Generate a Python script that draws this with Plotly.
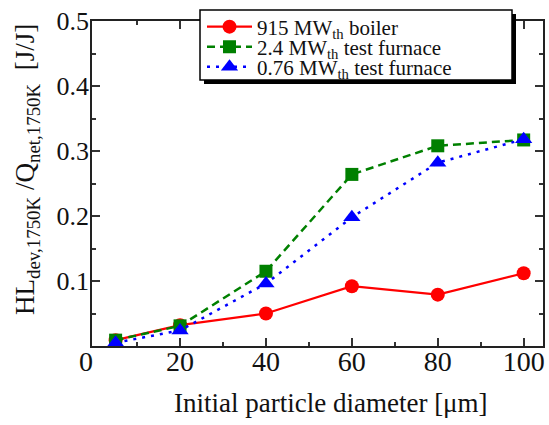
import plotly.graph_objects as go

diam = [5, 20, 40, 60, 80, 100]
boiler_915 = [0.009, 0.032, 0.050, 0.092, 0.079, 0.112]
furnace_24 = [0.009, 0.031, 0.115, 0.264, 0.308, 0.317]
furnace_076 = [0.005, 0.024, 0.096, 0.198, 0.282, 0.318]

names = ["915 MW<sub>th</sub> boiler", "2.4 MW<sub>th</sub> test furnace", "0.76 MW<sub>th</sub> test furnace"]
xticks = [20, 40, 60, 80, 100]
yticks = [0.1, 0.2, 0.3, 0.4, 0.5]

FONT = "Liberation Serif"
TXT = "#111"

# plot area in pixels (for converting layout positions)
L, R, T, B = 92, 6, 21, 79
W, H = 549, 425
PW, PH = W - L - R, H - T - B


def px_x(p):
    return (p - L) / PW


def px_y(p):
    return (H - B - p) / PH


fig = go.Figure()
fig.add_trace(go.Scatter(x=diam, y=boiler_915, name=names[0], mode="lines+markers",
                         line=dict(color="#ff0000", width=2.2),
                         marker=dict(symbol="circle", size=14, color="#ff0000"),
                         legend="legend"))
fig.add_trace(go.Scatter(x=diam, y=furnace_24, name=names[1], mode="lines+markers",
                         line=dict(color="#008000", width=2.5, dash="8px,5px"),
                         marker=dict(symbol="square", size=13, color="#008000"),
                         legend="legend2"))
fig.add_trace(go.Scatter(x=diam, y=furnace_076, name=names[2], mode="lines+markers",
                         line=dict(color="#0000ff", width=2.5, dash="3px,6px"),
                         marker=dict(symbol="triangle-up", size=15, color="#0000ff"),
                         legend="legend3"))

axis_common = dict(showline=True, linecolor="#222", linewidth=1.5, mirror="ticks",
                   ticks="inside", tickcolor="#333", tickwidth=1.5, ticklen=8,
                   showgrid=False, zeroline=False, automargin=False)

fig.update_xaxes(range=[-0.5, 104.5], tickvals=xticks, ticktext=[str(v) for v in xticks],
                 minor=dict(tickvals=[10, 30, 50, 70, 90], ticks="inside", ticklen=4,
                            tickcolor="#333", tickwidth=1.5),
                 tickfont=dict(family=FONT, size=28, color=TXT), ticklabelstandoff=-10,
                 **axis_common)
fig.update_yaxes(range=[0, 0.5], tickvals=yticks, ticktext=["0.1", "0.2", "0.3", "0.4", "0.5"],
                 minor=dict(tickvals=[0.05, 0.15, 0.25, 0.35, 0.45], ticks="inside", ticklen=4,
                            tickcolor="#333", tickwidth=1.5),
                 tickfont=dict(family=FONT, size=26, color=TXT), ticklabelstandoff=-4,
                 **axis_common)

# origin label and axis titles
fig.add_annotation(text="0", xref="paper", yref="paper", x=px_x(86), y=px_y(361),
                   xanchor="center", yanchor="middle", showarrow=False,
                   font=dict(family=FONT, size=28, color=TXT))
fig.add_annotation(text="Initial particle diameter [μm]", xref="paper", yref="paper",
                   x=px_x(331), y=px_y(403), xanchor="center", yanchor="middle",
                   showarrow=False, font=dict(family=FONT, size=27, color=TXT))
fig.add_annotation(text="HL<sub>dev,1750K</sub> /Q<sub>net,1750K</sub>  [J/J]",
                   xref="paper", yref="paper", textangle=-90,
                   x=px_x(27), y=px_y(170), xanchor="center", yanchor="middle",
                   showarrow=False, font=dict(family=FONT, size=27, color=TXT))

# legend frame with shadow
fig.add_shape(type="rect", xref="paper", yref="paper",
              x0=px_x(204), x1=px_x(516), y0=px_y(84), y1=px_y(14),
              fillcolor="black", line=dict(width=0), layer="above")
fig.add_shape(type="rect", xref="paper", yref="paper",
              x0=px_x(200), x1=px_x(512), y0=px_y(80), y1=px_y(10),
              fillcolor="white", line=dict(color="black", width=1.5), layer="above")

leg_common = dict(xanchor="left", yanchor="middle", bgcolor="rgba(0,0,0,0)",
                  borderwidth=0, font=dict(family=FONT, size=21, color=TXT),
                  itemwidth=45)

fig.update_layout(
    width=W, height=H,
    margin=dict(l=L, r=R, t=T, b=B),
    paper_bgcolor="white", plot_bgcolor="white",
    showlegend=True,
    legend=dict(x=px_x(202), y=px_y(27), **leg_common),
    legend2=dict(x=px_x(202), y=px_y(47), **leg_common),
    legend3=dict(x=px_x(202), y=px_y(67), **leg_common),
)

fig.write_html("out.html", config={"displayModeBar": False},
               post_script="document.body.style.margin='0px';")
